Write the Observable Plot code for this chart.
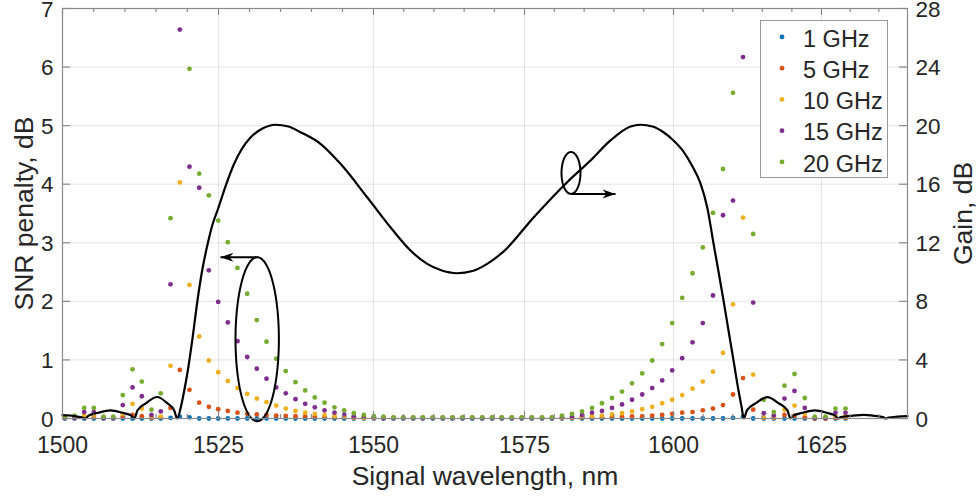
<!DOCTYPE html>
<html><head><meta charset="utf-8">
<script src="https://cdn.jsdelivr.net/npm/d3@7"></script>
<script src="https://cdn.jsdelivr.net/npm/@observablehq/plot@0.6"></script>
<style>
body{margin:0;background:#fff;}
#wrap{position:relative;width:977px;height:497px;}
</style></head><body><div id="wrap"></div>
<script>
// Channel wavelengths (nm)
const wavelengths = [1500.37,1501.92,1503.48,1505.02,1506.57,1508.13,1509.66,1511.22,1512.71,1514.26,1515.75,1517.31,1518.80,1520.35,1521.91,1523.45,1524.95,
1526.50,1528.06,1529.63,1531.18,1532.74,1534.31,1535.85,1537.42,1538.98,1540.53,1542.10,1543.71,1545.27,1546.82,1548.44,
1550.05,1551.66,1553.31,1554.92,1556.57,1558.16,1559.82,1561.47,1563.08,1564.74,1566.34,1568.00,1569.65,1571.24,1572.90,1574.55,
1576.22,1577.94,1579.61,1581.29,1582.97,1584.65,1586.33,1588.00,1589.68,1591.36,1593.04,1594.75,1596.43,1598.10,1599.78,
1601.47,1603.21,1604.95,1606.67,1608.36,1610.05,1611.74,1613.46,1615.25,1616.94,1618.75,1620.44,1622.18,1623.87,
1625.70,1627.44,1629.19];

// SNR penalty (dB) per channel for each bandwidth
const penalty1GHz = [0,0,0,0,0,0,0,0,0,0,0,0.01,0.03,0.02,0,0,0,
0,0,0,0,0,0,0,0,0,0,0,0,0,0,0,
0,0,0,0,0,0,0,0,0,0,0,0,0,0,0,0,
0,0,0,0,0,0,0,0,0,0,0,0,0,0,0,
0,0,0,0,0,0.01,0.03,0,0,0,0,0,0,0,
0,0,0];
const penalty5GHz = [0.01,0.01,0.02,0.02,0.01,0.01,0.03,0.06,0.04,0.01,0.02,0.18,0.83,0.49,0.27,0.20,0.16,
0.13,0.10,0.08,0.07,0.06,0.05,0.045,0.04,0.035,0.03,0.025,0.02,0.02,0.01,0.01,
0.01,0.01,0.01,0.01,0.01,0.01,0.01,0.01,0.01,0.01,0.01,0.01,0.01,0.01,0.01,0.01,
0.01,0.01,0.01,0.01,0.01,0.015,0.02,0.02,0.025,0.03,0.035,0.04,0.05,0.06,0.08,
0.10,0.11,0.14,0.17,0.23,0.41,0.69,0.15,0.01,0.01,0.06,0.05,0.02,0,
0,0.01,0.01];
const penalty10GHz = [0.01,0.01,0.05,0.05,0.01,0.01,0.08,0.25,0.17,0.03,0.03,0.90,4.03,2.28,1.40,0.99,0.79,
0.64,0.52,0.42,0.34,0.28,0.22,0.17,0.13,0.10,0.08,0.06,0.04,0.03,0.02,0.01,
0.01,0.01,0.01,0.01,0.01,0.01,0.01,0.01,0.01,0.01,0.01,0.01,0.01,0.01,0.01,0.01,
0.01,0.01,0.01,0.01,0.02,0.03,0.04,0.05,0.07,0.09,0.12,0.16,0.20,0.26,0.32,
0.40,0.51,0.63,0.80,1.12,1.95,3.43,0.75,0.02,0.02,0.15,0.22,0.08,0.01,
0.01,0.04,0.04];
const penalty15GHz = [0.01,0.01,0.11,0.11,0.01,0.01,0.23,0.53,0.38,0.06,0.12,2.29,6.64,4.30,3.94,2.53,1.99,
1.64,1.32,1.05,0.85,0.68,0.53,0.43,0.33,0.25,0.19,0.14,0.10,0.07,0.04,0.03,
0.02,0.01,0.01,0.01,0.01,0.01,0.01,0.01,0.01,0.01,0.01,0.01,0.01,0.01,0.01,0.01,
0.01,0.01,0.01,0.02,0.03,0.06,0.10,0.13,0.18,0.24,0.32,0.41,0.52,0.65,0.82,
1.03,1.30,1.63,2.10,3.47,3.72,6.17,1.98,0.09,0.05,0.34,0.47,0.18,0.01,
0.01,0.10,0.10];
const penalty20GHz = [0.02,0.05,0.18,0.18,0.03,0.03,0.40,0.84,0.63,0.15,0.43,3.42,null,5.97,4.18,3.81,3.38,
3.01,2.57,2.13,1.68,1.31,1.02,0.81,0.62,0.48,0.36,0.27,0.19,0.14,0.09,0.06,
0.04,0.03,0.02,0.02,0.02,0.02,0.02,0.02,0.02,0.02,0.02,0.02,0.02,0.02,0.02,0.02,
0.02,0.02,0.02,0.05,0.08,0.12,0.18,0.26,0.35,0.46,0.60,0.77,0.99,1.27,1.63,
2.06,2.48,2.92,3.51,4.26,5.56,null,3.15,0.32,0.11,0.56,0.76,0.35,0.03,
0.03,0.17,0.17];

const seriesNames = ["1 GHz","5 GHz","10 GHz","15 GHz","20 GHz"];
const seriesValues = [penalty1GHz, penalty5GHz, penalty10GHz, penalty15GHz, penalty20GHz];
const seriesColors = ["#0072BD","#D95319","#EDB120","#7E2F8E","#77AC30"];

// Gain curve (right axis, dB)
const gainWavelength = [1500.0,1501.0,1502.2,1503.2,1503.69,1504.2,1505.7,1507.69,1509.6,1511.0,1511.54,
1512.0,1513.36,1515.18,1516.8,1517.9,1518.38,
1518.91,1519.39,1520.03,1520.83,1521.63,1522.44,1523.24,1524.04,1525.0,1526.13,1527.47,1528.71,1530.16,1532.10,1534.19,1536.29,1538.23,1541.45,1544.68,1548.98,1552.81,1556.13,1558.89,1561.09,1563.86,1566.39,1568.82,1571.52,1576.56,1582.16,1586.07,1589.43,1592.79,1594.46,1596.48,1598.32,1600.0,1601.69,1603.21,1604.56,1605.74,1606.76,1607.60,1608.45,1609.29,1610.14,1610.98,1611.49,1611.88,
1612.4,1613.85,1615.83,1617.8,1619.25,1619.76,
1620.3,1621.8,1623.9,1625.9,1627.35,1627.88,
1628.4,1630.1,1632.4,1634.3,1635.7,1636.2,1636.7,1638.3,1640.0];
const gainDb = [0.23,0.21,0.14,0.06,0,0.21,0.39,0.55,0.39,0.21,0,
0.55,1.04,1.47,1.04,0.55,0,
0.68,1.64,3.14,5.46,8.06,10.24,11.88,13.25,14.41,15.85,17.35,18.37,19.19,19.80,20.06,19.94,19.55,18.76,17.39,15.11,13.06,11.47,10.56,10.14,9.92,10.07,10.56,11.40,13.75,16.14,17.62,18.99,19.94,20.06,19.94,19.55,18.99,18.23,17.21,16.05,14.34,11.95,10.04,8.06,6.01,3.96,1.91,0.82,0,
0.55,1.03,1.46,1.03,0.55,0,
0.21,0.39,0.55,0.39,0.21,0,
0.10,0.18,0.25,0.18,0.10,0,0.06,0.13,0.16];

const xMajorTicks = [1500,1525,1550,1575,1600,1625];
const xMinorTicks = [1505,1510,1515,1520,1530,1535,1540,1545,1555,1560,1565,1570,1580,1585,1590,1595,1605,1610,1615,1620,1630,1635];
const snrTicks = [0,1,2,3,4,5,6,7];
const gainTicks = [0,4,8,12,16,20,24,28];
const gainPerSnr = 4;

// Annotations (data units): ellipses and arrows
const annotEllipses = [
  {id:"snr", cx:1531.24, cy:1.354, rx:3.5, ry:1.40},
  {id:"gain", cx:1582.8, cy:16.77/gainPerSnr, rx:1.59, ry:1.43/gainPerSnr}
];
const annotArrows = [
  {x1:1531.24, y1:2.754, x2:1525.32, y2:2.754, rot:180},
  {x1:1582.80, y1:15.33/gainPerSnr, x2:1590.27, y2:15.33/gainPerSnr, rot:0}
];

// build tables
const dotRows = [];
seriesNames.forEach((s, k) => seriesValues[k].forEach((v, i) => {
  if (v != null) dotRows.push({w: wavelengths[i], v, s});
}));
const gainRows = gainWavelength.map((w, i) => ({w, g: gainDb[i]}));
const ellipsePts = [];
annotEllipses.forEach(e => {
  for (let a = 0; a <= 360; a += 4) {
    const t = a * Math.PI / 180;
    ellipsePts.push({id: e.id, x: e.cx + e.rx * Math.cos(t), y: e.cy + e.ry * Math.sin(t)});
  }
});

const dart = {draw(ctx) { ctx.moveTo(0,0); ctx.lineTo(-13,-4.5); ctx.lineTo(-9,0); ctx.lineTo(-13,4.5); ctx.closePath(); }};

const axisGray = "#8a8a8a";
const textCol = "#262626";
const font = "'Liberation Sans', Arial, Helvetica, sans-serif";
const frameH = 410, frameW = 845;

const chart = Plot.plot({
  width: 977, height: 497,
  marginLeft: 62, marginRight: 70, marginTop: 8, marginBottom: 79,
  style: {fontFamily: font, background: "white", overflow: "visible"},
  x: {type: "linear", domain: [1500,1525,1550,1575,1600,1625,1640], range: [62,218,373,524,673,821,907]},
  y: {domain: [0, 7]},
  color: {domain: seriesNames, range: seriesColors},
  marks: [
    Plot.gridX(xMajorTicks.slice(1), {stroke: "#262626", strokeOpacity: 0.12, strokeWidth: 1}),
    Plot.gridY(snrTicks.slice(1, 7), {stroke: "#262626", strokeOpacity: 0.12, strokeWidth: 1}),
    Plot.dot(dotRows, {x: "w", y: "v", fill: "s", r: 2.4}),
    Plot.line(gainRows, {x: "w", y: d => d.g / gainPerSnr, curve: "monotone-x", stroke: "black", strokeWidth: 2.2}),
    Plot.line(ellipsePts, {x: "x", y: "y", z: "id", stroke: "black", strokeWidth: 2}),
    Plot.link(annotArrows, {x1: "x1", y1: "y1", x2: "x2", y2: "y2", stroke: "black", strokeWidth: 2}),
    Plot.dot(annotArrows, {x: "x2", y: "y2", symbol: dart, rotate: "rot", fill: "black", stroke: null}),
    Plot.frame({stroke: axisGray, strokeWidth: 1.2}),
    // inward ticks
    Plot.ruleX(xMajorTicks, {x: d => d, insetTop: frameH - 7, stroke: axisGray, strokeWidth: 1.2}),
    Plot.ruleX(xMinorTicks, {x: d => d, insetTop: frameH - 4, stroke: axisGray, strokeWidth: 1.2}),
    Plot.ruleX(xMajorTicks, {x: d => d, insetBottom: frameH - 7, stroke: axisGray, strokeWidth: 1.2}),
    Plot.ruleX(xMinorTicks, {x: d => d, insetBottom: frameH - 4, stroke: axisGray, strokeWidth: 1.2}),
    Plot.ruleY(snrTicks, {y: d => d, insetRight: frameW - 8, stroke: axisGray, strokeWidth: 1.2}),
    Plot.ruleY(snrTicks, {y: d => d, insetLeft: frameW - 8, stroke: axisGray, strokeWidth: 1.2}),
    // tick labels
    Plot.axisX({anchor: "bottom", ticks: xMajorTicks, tickSize: 0, tickPadding: 18, fontSize: 23, color: textCol, tickFormat: d => String(d), label: null}),
    Plot.axisY({anchor: "left", ticks: snrTicks, tickSize: 0, tickPadding: 9, fontSize: 22.5, dy: 0.8, color: textCol, tickFormat: d => String(d), label: null}),
    Plot.axisY({anchor: "right", ticks: gainTicks.map(g => g / gainPerSnr), tickSize: 0, tickPadding: 8, fontSize: 22.5, dy: 0.8, color: textCol, tickFormat: d => String(Math.round(d * gainPerSnr)), label: null}),
    // axis titles
    Plot.text(["Signal wavelength, nm"], {frameAnchor: "bottom", dy: 66, lineAnchor: "bottom", textAnchor: "middle", fontSize: 26.5, fill: textCol}),
    Plot.text(["SNR penalty, dB"], {frameAnchor: "left", dx: -30, rotate: -90, lineAnchor: "bottom", textAnchor: "middle", fontSize: 26.5, fill: textCol}),
    Plot.text(["Gain, dB"], {frameAnchor: "right", dx: 64, rotate: -90, lineAnchor: "bottom", textAnchor: "middle", fontSize: 26.5, fill: textCol})
  ]
});
document.getElementById("wrap").appendChild(chart);

// legend
const svg = d3.select(chart);
const lg = svg.append("g").attr("font-family", font).attr("text-anchor", "start");
lg.append("rect").attr("x", 760.5).attr("y", 20.5).attr("width", 127).attr("height", 157)
  .attr("fill", "white").attr("stroke", "#999").attr("stroke-width", 1);
seriesNames.forEach((s, k) => {
  const base = 46.7 + k * 31.25;
  lg.append("circle").attr("cx", 782).attr("cy", base - 9.8).attr("r", 2.4).attr("fill", seriesColors[k]);
  lg.append("text").attr("x", 803).attr("y", base).attr("text-anchor", "start").attr("font-size", 23.5).attr("fill", textCol).text(s);
});
</script></body></html>
